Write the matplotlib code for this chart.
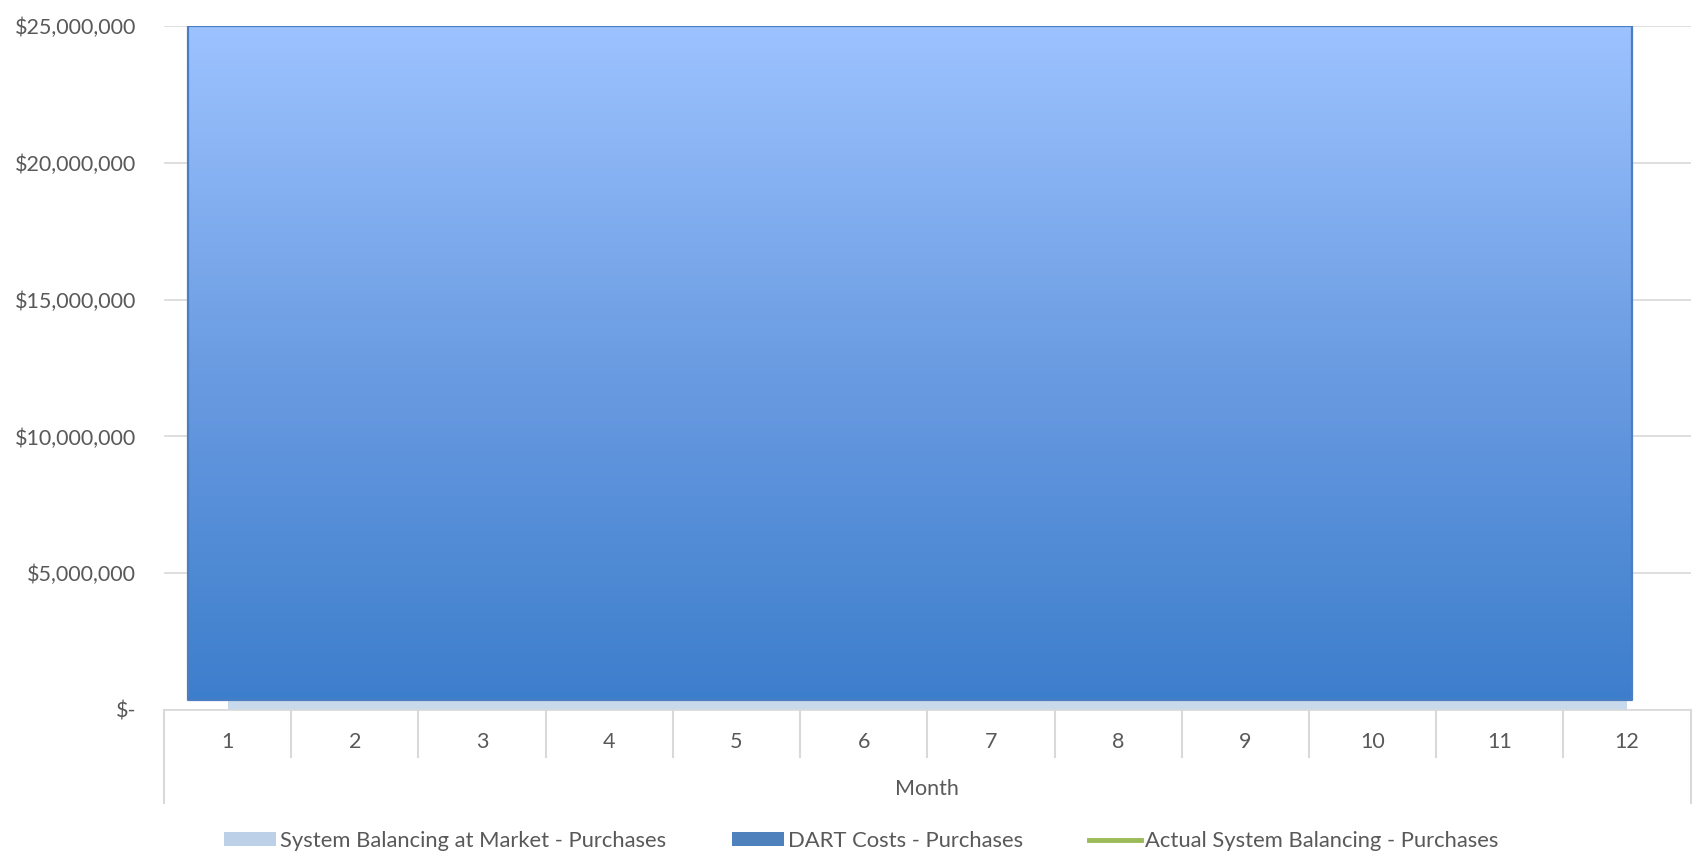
import numpy as np
import matplotlib
matplotlib.use("Agg")
import matplotlib.pyplot as plt
from matplotlib.patches import Patch
from matplotlib.lines import Line2D
from matplotlib.colors import LinearSegmentedColormap
from matplotlib.ticker import FuncFormatter

months = list(range(1, 13))
month_labels = [str(m) for m in months]
sys_bal_market = [365000] * 12          # System Balancing at Market - Purchases
dart_costs = [24635000] * 12            # DART Costs - Purchases (stacked on top)
actual_sys_bal = [np.nan] * 12          # Actual System Balancing - Purchases (not visible)
y_ticks = [0, 5000000, 10000000, 15000000, 20000000, 25000000]

plt.rcParams['font.family'] = ['Lato', 'DejaVu Sans']
txt = '#595959'
grid_c = '#D9D9D9'
fs = 15.5

fig = plt.figure(figsize=(17.01, 8.58), dpi=100)
ax = fig.add_axes([0.0964, 0.1725, 0.8975, 0.7972])
ax.set_xlim(0.5, 12.5)
ax.set_ylim(0, 25000000)

x = np.array(months, dtype=float)
sb = np.array(sys_bal_market, dtype=float)
top = sb + np.array(dart_costs, dtype=float)

# System balancing area
ax.fill_between(x, 0, sb, color='#C9D9EC', lw=0, zorder=2)

# DART area (extends slightly beyond the category centres as in the reference)
xl = np.concatenate([[x[0] - 0.31], x, [x[-1] + 0.04]])
base = np.concatenate([[sb[0]], sb, [sb[-1]]])
tp = np.concatenate([[top[0]], top, [top[-1]]])
ax.fill_between(xl, base, tp, facecolor='none', edgecolor='#4A7EC1', lw=1.6, zorder=4)
cmap = LinearSegmentedColormap.from_list('g', ['#3D7ECC', '#6B9CE2', '#9DC3FF'])
grad = np.linspace(0, 1, 256).reshape(-1, 1)
im = ax.imshow(grad, cmap=cmap, aspect='auto', origin='lower',
               extent=[xl[0], xl[-1], base.min(), tp.max()], zorder=3, interpolation='bilinear')
clip = ax.fill_between(xl, base, tp, facecolor='none', lw=0)
im.set_clip_path(clip.get_paths()[0], transform=ax.transData)
ax.set_xlim(0.5, 12.5)
ax.set_ylim(0, 25000000)

ax.plot(x, actual_sys_bal, color='#9BBB59', lw=3, zorder=5)

# gridlines
ax.set_yticks(y_ticks)
ax.yaxis.grid(True, color=grid_c, lw=1.2)
ax.set_axisbelow(True)
ax.yaxis.set_major_formatter(FuncFormatter(lambda v, p: '$-' if v == 0 else f'${v:,.0f}'))
ax.tick_params(axis='y', length=0, pad=20, labelsize=fs, labelcolor=txt)
for s in ['left', 'right', 'top']:
    ax.spines[s].set_visible(False)
ax.spines['bottom'].set_color(grid_c)
ax.spines['bottom'].set_linewidth(1.2)

# category axis
ax.set_xticks(x)
ax.set_xticklabels(month_labels)
ax.tick_params(axis='x', length=0, pad=15.5, labelsize=fs, labelcolor=txt)
trans = ax.get_xaxis_transform()
h_px = 0.7972 * 858
sep_len = 47 / h_px
outer_len = 93 / h_px
for b in np.arange(0.5, 13.0, 1.0):
    L = outer_len if b in (0.5, 12.5) else sep_len
    ax.plot([b, b], [0, -L], transform=trans, color=grid_c, lw=1.5, clip_on=False)
ax.text(6.5, -79 / h_px, 'Month', transform=trans, ha='center', va='center',
        fontsize=fs, color=txt)

handles = [Patch(facecolor='#BCD0E8', edgecolor='none'),
           Patch(facecolor='#4F81BD', edgecolor='none'),
           Line2D([], [], color='#9BBB59', lw=3.5)]
labels = ['System Balancing at Market - Purchases', 'DART Costs - Purchases',
          'Actual System Balancing - Purchases']
fig.legend(handles, labels, loc='center', bbox_to_anchor=(0.5 + 10 / 1568, 1 - 841 / 858), ncol=3,
           frameon=False, fontsize=15.8, handlelength=2.35, handleheight=0.6,
           handletextpad=0.2, columnspacing=3.0, labelcolor=txt)

fig.savefig('out.png', dpi=100)
